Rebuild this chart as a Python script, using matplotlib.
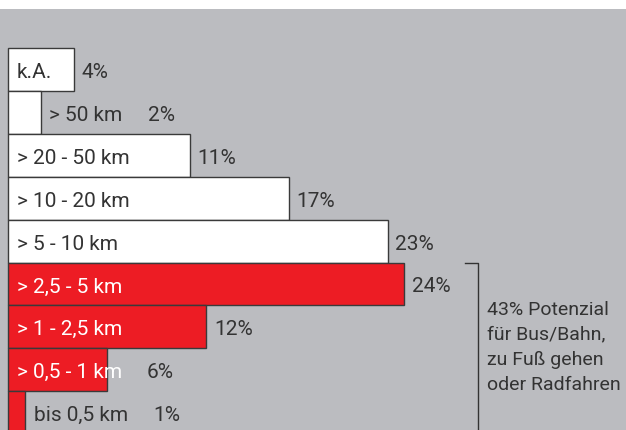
import matplotlib
matplotlib.use("Agg")
import matplotlib.pyplot as plt

categories = ["k.A.", "> 50 km", "> 20 - 50 km", "> 10 - 20 km", "> 5 - 10 km",
              "> 2,5 - 5 km", "> 1 - 2,5 km", "> 0,5 - 1 km", "bis 0,5 km"]
values = [4, 2, 11, 17, 23, 24, 12, 6, 1]
short_trip = [False, False, False, False, False, True, True, True, True]
label_outside = [False, True, False, False, False, False, False, False, True]
annotation = "43% Potenzial\nfür Bus/Bahn,\nzu Fuß gehen\noder Radfahren"

W, H = 626, 430
fig = plt.figure(figsize=(W / 100, H / 100), dpi=100, facecolor="white")
ax = fig.add_axes([0, 0, 1, (H - 9) / H])
bg = "#bbbcc0"
ax.set_facecolor(bg)
for s in ax.spines.values():
    s.set_visible(False)
ax.set_xticks([])
ax.set_yticks([])

px_per = 16.5
x0 = 8
ax.set_xlim(-x0 / px_per, (W - x0) / px_per)
bar_h = 42.9
top0 = 48
ax.set_ylim(-0.5 + (H - top0) / bar_h, -0.5 - (top0 - 9) / bar_h)

font = "Roboto"
fw = "normal"
fs = 15
dark = "#333333"
red = "#ed1c24"

def txt(s, xy, dx, color):
    ax.annotate(s, xy, xytext=(dx, -1), textcoords="offset pixels",
                va="center_baseline", ha="left", fontsize=fs, family=font,
                fontweight=fw, color=color)

pct_x = {1: 148, 7: 147, 8: 153}

for i, (cat, v, sh, out) in enumerate(zip(categories, values, short_trip, label_outside)):
    ax.barh(i, v, height=1.0, left=0, color=red if sh else "white",
            edgecolor="#3a3a3a", linewidth=1.0)
    tc = "white" if sh else dark
    if out:
        txt(cat, (v, i), 8 if i == 1 else 10, dark)
    else:
        txt(cat, (0, i), 9, tc)
    if i in pct_x:
        txt(f"{v}%", (0, i), pct_x[i] - x0, dark)
    else:
        txt(f"{v}%", (v, i), 8, dark)

# bracket
bx = (478 - x0) / px_per
bx0 = (465 - x0) / px_per
ytop = 4.5
ax.plot([bx0, bx, bx], [ytop, ytop, 9], color="#333333", lw=1.0)
ax.text((487 - x0) / px_per, 6.47, annotation, va="center", ha="left",
        fontsize=14, family=font, fontweight=fw, color=dark, linespacing=1.5)

fig.savefig("out.png", dpi=100, facecolor="white")
